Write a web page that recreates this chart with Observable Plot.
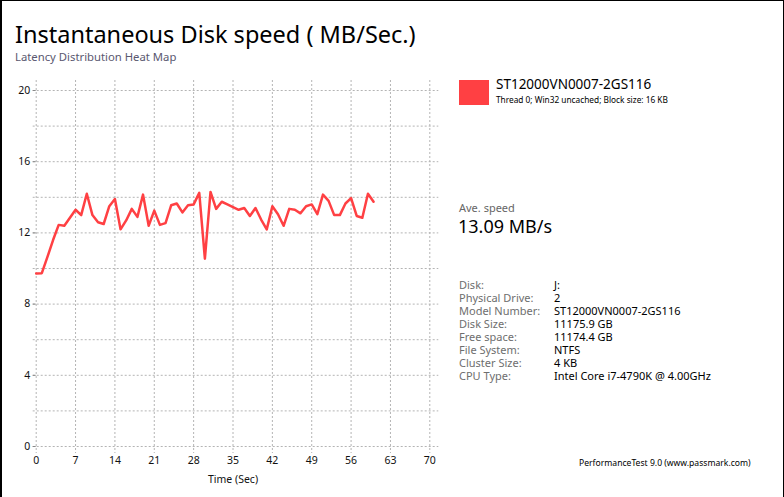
<!DOCTYPE html>
<html><head><meta charset="utf-8">
<script src="https://cdn.jsdelivr.net/npm/d3@7"></script>
<script src="https://cdn.jsdelivr.net/npm/@observablehq/plot@0.6"></script>
<style>
html,body{margin:0;padding:0;background:#fff;}
#page{position:relative;width:784px;height:497px;overflow:hidden;font-family:"Noto Sans",sans-serif;box-sizing:border-box;border-left:2px solid #000;border-top:1px solid #000;}
#page .t{position:absolute;white-space:nowrap;line-height:1;}
#rborder{position:absolute;left:781px;top:0;width:2px;height:497px;background:#000;}
#chart{position:absolute;left:-2px;top:-1px;}
</style></head>
<body><div id="page">
<div id="chart"></div>
<div class="t" id="title" style="left:13px;top:21.5px;font-size:23.5px;color:#000;">Instantaneous Disk speed ( MB/Sec.)</div>
<div class="t" style="left:13px;top:50px;font-size:11.3px;color:#5a5870;">Latency Distribution Heat Map</div>
<div id="legend"></div>
<div id="info"></div>
<div class="t" style="left:577px;top:458px;font-size:8.6px;color:#000;">PerformanceTest 9.0 (www.passmark.com)</div>
<div id="rborder"></div>
</div>
<script>
const seconds = [0,1,2,3,4,5,6,7,8,9,10,11,12,13,14,15,16,17,18,19,20,21,22,23,24,25,26,27,28,29,30,31,32,33,34,35,36,37,38,39,40,41,42,43,44,45,46,47,48,49,50,51,52,53,54,55,56,57,58,59,60];
const speeds = [9.72,9.74,10.65,11.6,12.45,12.4,12.85,13.3,13.0,14.2,13.0,12.6,12.5,13.5,13.9,12.2,12.7,13.35,12.9,14.15,12.4,13.25,12.45,12.55,13.55,13.65,13.15,13.55,13.6,14.25,10.55,14.3,13.35,13.75,13.6,13.45,13.3,13.4,12.95,13.4,12.75,12.2,13.5,13.05,12.4,13.35,13.3,13.1,13.5,13.6,13.05,14.15,13.8,13.0,13.0,13.65,13.95,12.95,12.85,14.2,13.75];
const xTicks = [0,7,14,21,28,35,42,49,56,63,70];
const yTicks = [0,4,8,12,16,20];
const yGrid = [0,2,4,6,8,10,12,14,16,18,20];
const seriesName = "ST12000VN0007-2GS116";
const seriesNote = "Thread 0; Win32 uncached; Block size: 16 KB";
const aveSpeed = "13.09 MB/s";
const infoLabels = ["Disk:","Physical Drive:","Model Number:","Disk Size:","Free space:","File System:","Cluster Size:","CPU Type:"];
const infoValues = ["J:","2","ST12000VN0007-2GS116","11175.9 GB","11174.4 GB","NTFS","4 KB","Intel Core i7-4790K @ 4.00GHz"];

const data = seconds.map((s,i)=>({t:s, v:speeds[i]}));
const red = "#ff4043";
const gridColor = "#b4b4b4";

const plot = Plot.plot({
  width: 784, height: 497,
  marginLeft: 35.7, marginRight: 354.7, marginTop: 90, marginBottom: 51,
  style: {fontFamily: "'Noto Sans', sans-serif", fontSize: "10.5px", color: "#111", background: "transparent"},
  x: {domain: [0,70]},
  y: {domain: [0,20]},
  marks: [
    Plot.ruleY(yGrid, {y: d=>d, stroke: gridColor, strokeDasharray: "2,2", insetLeft: -3, insetRight: -9}),
    Plot.ruleX(xTicks, {x: d=>d, stroke: gridColor, strokeDasharray: "2,2", insetTop: -10, insetBottom: -7}),
    Plot.axisY({ticks: yTicks, tickSize: 3, tickPadding: 3, label: null, stroke: "#888"}),
    Plot.axisX({ticks: xTicks, tickSize: 0, tickPadding: 10, label: "Time (Sec)", labelAnchor: "center", labelArrow: "none", labelOffset: 36}),
    Plot.line(data, {x: "t", y: "v", stroke: red, strokeWidth: 2.5, strokeLinejoin: "round", strokeLinecap: "round"})
  ]
});
document.getElementById("chart").appendChild(plot);

// legend & info panel
const lg = document.getElementById("legend");
lg.innerHTML = `<div style="position:absolute;left:457px;top:79px;width:30px;height:25px;background:${red}"></div>
<div class="t" style="left:494px;top:77px;font-size:13.5px;color:#000;">${seriesName}</div>
<div class="t" style="left:494px;top:95px;font-size:8.3px;color:#000;">${seriesNote}</div>
<div class="t" style="left:457px;top:201px;font-size:11px;color:#666;">Ave. speed</div>
<div class="t" style="left:456px;top:216px;font-size:18px;color:#000;">${aveSpeed}</div>`;
const info = document.getElementById("info");
info.innerHTML = infoLabels.map((l,i)=>`<div class="t" style="left:457px;top:${277.5+i*13.1}px;font-size:11px;color:#6e6e6e;">${l}</div><div class="t" style="left:552px;top:${277.5+i*13.1}px;font-size:11px;color:#000;">${infoValues[i]}</div>`).join("");
</script>
</body></html>
